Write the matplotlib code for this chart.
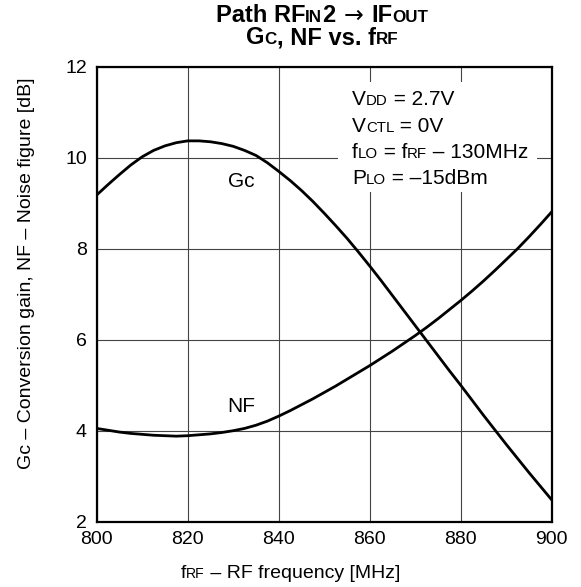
import matplotlib
matplotlib.use("Agg")
import matplotlib.pyplot as plt
from matplotlib.transforms import IdentityTransform
from matplotlib.patches import Rectangle

plt.rcParams['font.family'] = ['Liberation Sans', 'DejaVu Sans']

# data (every 2.5 MHz)
freq = [800, 802.5, 805, 807.5, 810, 812.5, 815, 817.5, 820, 822.5,
        825, 827.5, 830, 832.5, 835, 837.5, 840, 842.5, 845, 847.5,
        850, 852.5, 855, 857.5, 860, 862.5, 865, 867.5, 870, 872.5,
        875, 877.5, 880, 882.5, 885, 887.5, 890, 892.5, 895, 897.5, 900]
gc = [9.18, 9.41, 9.63, 9.84, 10.02, 10.16, 10.26, 10.33, 10.37, 10.37,
      10.35, 10.31, 10.25, 10.16, 10.05, 9.89, 9.70, 9.50, 9.28, 9.04,
      8.78, 8.51, 8.23, 7.93, 7.62, 7.30, 6.97, 6.64, 6.31, 5.98,
      5.65, 5.32, 5.00, 4.67, 4.34, 4.02, 3.70, 3.39, 3.08, 2.78, 2.48]
nf = [4.05, 4.01, 3.97, 3.94, 3.92, 3.90, 3.89, 3.88, 3.89, 3.91,
      3.93, 3.96, 4.00, 4.05, 4.12, 4.21, 4.32, 4.44, 4.57, 4.70,
      4.84, 4.98, 5.13, 5.28, 5.43, 5.59, 5.75, 5.92, 6.09, 6.27,
      6.46, 6.66, 6.86, 7.07, 7.29, 7.52, 7.76, 8.00, 8.26, 8.53, 8.81]

xticks = [800, 820, 840, 860, 880, 900]
yticks = [2, 4, 6, 8, 10, 12]

W, H = 581, 587
SC = 0.72  # small caps scale

fig = plt.figure(figsize=(W / 100, H / 100), dpi=100)
ax = fig.add_axes([96.7 / W, 1 - 521.7 / H, 455 / W, 455 / H])

ax.plot(freq, gc, color='black', lw=2.0, zorder=3)
ax.plot(freq, nf, color='black', lw=2.0, zorder=3)

ax.set_xlim(800, 900)
ax.set_ylim(2, 12)
ax.set_xticks(xticks)
ax.set_yticks(yticks)
ax.tick_params(length=0, pad=7, labelsize=14)
ax.grid(True, color='#444444', lw=0.8, zorder=0)
ax.set_axisbelow(True)
for sp in ax.spines.values():
    sp.set_linewidth(1.6)

# white area behind the conditions text
ax.add_patch(Rectangle((853.0, 9.24), 43.8, 2.42, facecolor='white',
                       edgecolor='none', zorder=1))

ax.text(828.8, 9.36, 'Gc', fontsize=15, va='baseline', zorder=4)
ax.text(828.8, 4.42, 'NF', fontsize=15, va='baseline', zorder=4)

renderer = fig.canvas.get_renderer()


def seg_width(s, size, weight):
    t = fig.text(0, 0, '|' + s + '|', fontsize=size, fontweight=weight)
    w1 = t.get_window_extent(renderer).width
    t.set_text('||')
    w2 = t.get_window_extent(renderer).width
    t.remove()
    return w1 - w2


def rich(x, y, parts, size, weight='normal', ha='left'):
    # parts: (text, scale); y is the baseline in pixels from the top
    items = []
    for s, k in parts:
        fs = size * k
        items.append((s, fs, seg_width(s, fs, weight)))
    total = sum(it[2] for it in items)
    if ha == 'center':
        x -= total / 2
    for s, fs, w in items:
        fig.text(x, H - y, s, fontsize=fs, fontweight=weight, va='baseline',
                 ha='left', transform=IdentityTransform(), zorder=5)
        x += w


# title
rich(322, 22, [('Path RF', 1), ('IN', SC), ('2', 1), (' ', 0.5),
               (r'$\rightarrow$', 1), (' ', 0.5), ('IF', 1), ('OUT', SC)],
     17, weight='bold', ha='center')
rich(322, 44, [('G', 1), ('C', SC), (', NF vs. f', 1), ('RF', SC)], 17,
     weight='bold', ha='center')

# conditions
rich(352, 105, [('V', 1), ('DD', SC), (' = 2.7V', 1)], 15)
rich(352, 131.7, [('V', 1), ('CTL', SC), (' = 0V', 1)], 15)
rich(352, 158.3, [('f', 1), ('LO', SC), (' = f', 1), ('RF', SC),
                  (' – 130MHz', 1)], 15)
rich(352, 184, [('P', 1), ('LO', SC), (' = –15dBm', 1)], 15)

# axis labels
rich(290.5, 578, [('f', 1), ('RF', SC), (' – RF frequency [MHz]', 1)], 14,
     ha='center')
fig.text(27, H - 273, 'Gc – Conversion gain, NF – Noise figure [dB]',
         fontsize=14, rotation=90, ha='center', va='center',
         transform=IdentityTransform())

fig.savefig('out.png', dpi=100)
